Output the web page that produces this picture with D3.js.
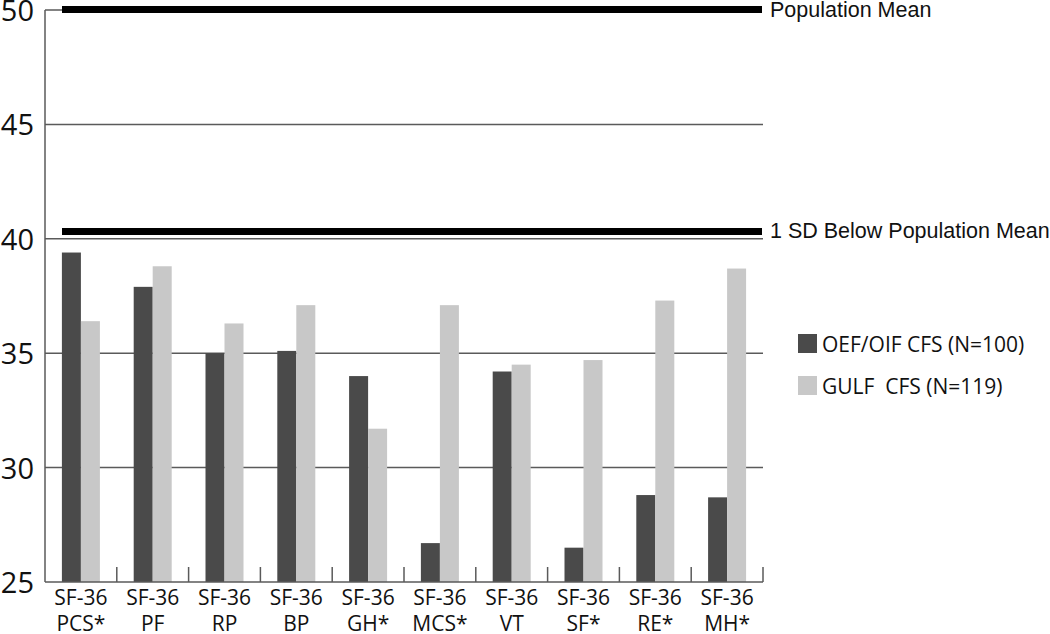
<!DOCTYPE html>
<html>
<head>
<meta charset="utf-8">
<script src="https://cdn.jsdelivr.net/npm/d3@7"></script>
<style>
  html, body { margin: 0; padding: 0; background: #fff; }
  svg { display: block; }
</style>
</head>
<body>
<svg id="chart" width="1050" height="634"></svg>
<script>
// ---- data ----
const categories = ["PCS*", "PF", "RP", "BP", "GH*", "MCS*", "VT", "SF*", "RE*", "MH*"];
const seriesNames = ["OEF/OIF CFS (N=100)", "GULF  CFS (N=119)"];
const oefValues  = [39.4, 37.9, 35.0, 35.1, 34.0, 26.7, 34.2, 26.5, 28.8, 28.7];
const gulfValues = [36.4, 38.8, 36.3, 37.1, 31.7, 37.1, 34.5, 34.7, 37.3, 38.7];
const yTicks = [25, 30, 35, 40, 45, 50];
const refValues = [50, 40.3];
const refLabels = ["Population Mean", "1 SD Below Population Mean"];
const seriesColors = ["#4a4a4a", "#c8c8c8"];

(function () {
// ---- layout ----
const svg = d3.select("#chart");
const mLeft = 45, mRight = 763, mTop = 10, mBottom = 582;

const y = d3.scaleLinear().domain([25, 50]).range([mBottom, mTop]);
const x0 = d3.scaleBand().domain(categories).range([mLeft, mRight]).padding(0);
const bw = x0.bandwidth();
const x1 = d3.scaleBand().domain(seriesNames).range([bw / 2 - 19, bw / 2 + 19]).padding(0);

// gridlines (30..45)
svg.append("g").selectAll("line")
  .data(yTicks.filter(t => t > 25 && t < 50))
  .join("line")
  .attr("x1", mLeft).attr("x2", mRight)
  .attr("y1", d => y(d)).attr("y2", d => y(d))
  .attr("stroke", "#5a5a5a").attr("stroke-width", 1.5);

// short tick at 50
svg.append("line")
  .attr("x1", mLeft).attr("x2", mLeft + 17)
  .attr("y1", y(50)).attr("y2", y(50))
  .attr("stroke", "#5a5a5a").attr("stroke-width", 1.5);

// bars
const data = categories.map((c, i) => ({ cat: c, vals: [oefValues[i], gulfValues[i]] }));
const groups = svg.append("g").selectAll("g")
  .data(data).join("g")
  .attr("transform", d => `translate(${x0(d.cat)},0)`);
groups.selectAll("rect")
  .data(d => d.vals.map((v, j) => ({ name: seriesNames[j], v, j })))
  .join("rect")
  .attr("x", d => x1(d.name))
  .attr("width", x1.bandwidth())
  .attr("y", d => y(d.v))
  .attr("height", d => y(25) - y(d.v))
  .attr("fill", d => seriesColors[d.j]);

// reference lines
svg.append("g").selectAll("line")
  .data(refValues).join("line")
  .attr("x1", mLeft + 17).attr("x2", mRight - 1)
  .attr("y1", d => y(d) - 0.5).attr("y2", d => y(d) - 0.5)
  .attr("stroke", "#000").attr("stroke-width", 7);

svg.append("g").selectAll("text")
  .data(refValues).join("text")
  .attr("x", 770)
  .attr("y", d => y(d) + 6.5)
  .attr("font-family", "'Liberation Sans', Arial, sans-serif")
  .attr("font-size", 21.5)
  .attr("fill", "#111")
  .text((d, i) => refLabels[i]);

// y axis line
svg.append("line")
  .attr("x1", mLeft).attr("x2", mLeft)
  .attr("y1", mTop).attr("y2", mBottom)
  .attr("stroke", "#5a5a5a").attr("stroke-width", 1.5);

// y tick labels
svg.append("g").selectAll("text")
  .data(yTicks).join("text")
  .attr("x", 34)
  .attr("y", d => y(d) + 11)
  .attr("text-anchor", "end")
  .attr("font-family", "'Open Sans', sans-serif")
  .attr("font-size", 29)
  .attr("fill", "#111")
  .text(d => d);

// x axis line + ticks
svg.append("line")
  .attr("x1", mLeft).attr("x2", mRight)
  .attr("y1", mBottom).attr("y2", mBottom)
  .attr("stroke", "#5a5a5a").attr("stroke-width", 1.5);
svg.append("g").selectAll("line")
  .data(categories).join("line")
  .attr("x1", d => x0(d) + bw).attr("x2", d => x0(d) + bw)
  .attr("y1", mBottom).attr("y2", mBottom - 15)
  .attr("stroke", "#5a5a5a").attr("stroke-width", 1.5);

// category labels
const lab = svg.append("g").selectAll("text")
  .data(categories).join("text")
  .attr("text-anchor", "middle")
  .attr("font-family", "'Open Sans', sans-serif")
  .attr("font-size", 21)
  .attr("fill", "#111");
lab.append("tspan")
  .attr("x", d => x0(d) + bw / 2).attr("y", 605)
  .text("SF-36");
lab.append("tspan")
  .attr("x", d => x0(d) + bw / 2).attr("y", 631)
  .text(d => d);

// legend
const leg = svg.append("g").selectAll("g")
  .data(seriesNames).join("g")
  .attr("transform", (d, i) => `translate(798,${334 + i * 42})`);
leg.append("rect")
  .attr("width", 19).attr("height", 19)
  .attr("fill", (d, i) => seriesColors[i]);
leg.append("text")
  .attr("x", 24).attr("y", 18)
  .attr("font-family", "'Open Sans', sans-serif")
  .attr("font-size", 21)
  .attr("fill", "#111")
  .style("white-space", "pre")
  .text(d => d);
})();
</script>
</body>
</html>
